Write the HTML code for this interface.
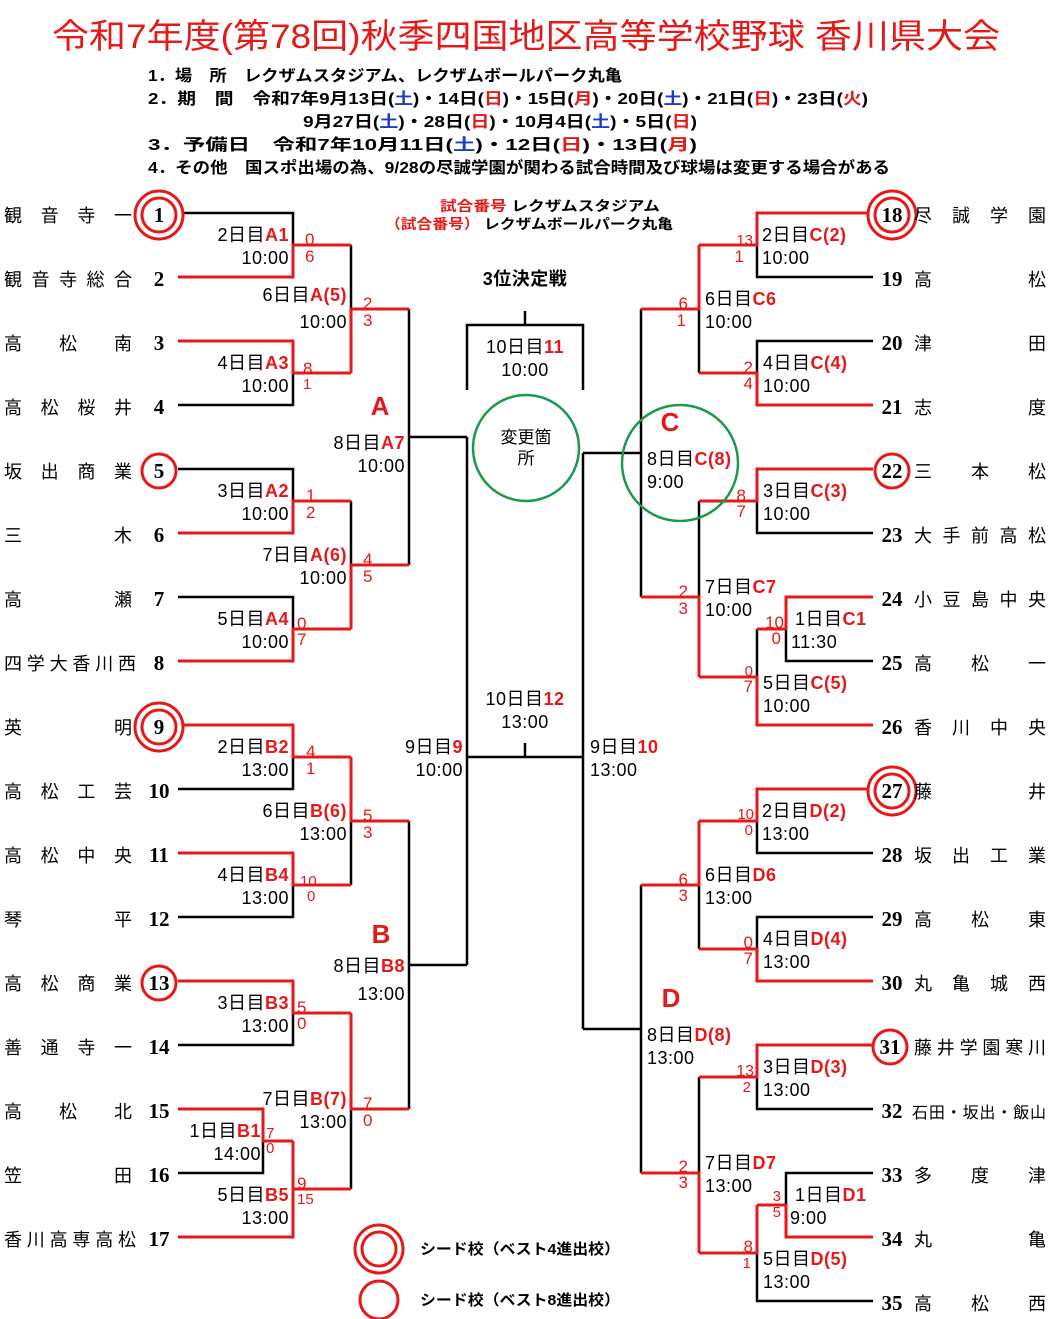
<!DOCTYPE html>
<html><head><meta charset="utf-8"><style>
html,body{margin:0;padding:0;background:#fff;width:1051px;height:1319px;overflow:hidden}
svg{display:block;font-family:"Liberation Sans","Noto Sans CJK JP",sans-serif}
.k{fill:none;stroke:#000;stroke-width:2.5}
.r{fill:none;stroke:#e61919;stroke-width:3}
.g text{font-size:18px;fill:#000;letter-spacing:0.5px}
.rd{fill:#e61919;font-weight:bold}
.s text{font-size:17px;fill:#e61919}
.nm{font-size:18px;fill:#000}
.nu{font-family:"Liberation Serif","Noto Serif CJK SC",serif;font-weight:bold;font-size:21px;fill:#000}
.h{font-size:16px;font-weight:bold;fill:#000}
</style></head><body>
<svg width="1051" height="1319" viewBox="0 0 1051 1319">
<text x="52" y="48" textLength="948" lengthAdjust="spacingAndGlyphs" font-size="34" fill="#e61919">令和7年度(第78回)秋季四国地区高等学校野球 香川県大会</text>
<text class="h" x="148" y="81" textLength="474" lengthAdjust="spacingAndGlyphs">1．場　所　レクザムスタジアム、レクザムボールパーク丸亀</text>
<text class="h" x="148" y="104" textLength="720" lengthAdjust="spacingAndGlyphs">2．期　間　令和7年9月13日(<tspan fill="#1a3cc8">土</tspan>)・14日(<tspan fill="#e61919">日</tspan>)・15日(<tspan fill="#e61919">月</tspan>)・20日(<tspan fill="#1a3cc8">土</tspan>)・21日(<tspan fill="#e61919">日</tspan>)・23日(<tspan fill="#e61919">火</tspan>)</text>
<text class="h" x="303" y="127" textLength="394" lengthAdjust="spacingAndGlyphs">9月27日(<tspan fill="#1a3cc8">土</tspan>)・28日(<tspan fill="#e61919">日</tspan>)・10月4日(<tspan fill="#1a3cc8">土</tspan>)・5日(<tspan fill="#e61919">日</tspan>)</text>
<text class="h" x="148" y="150" textLength="549" lengthAdjust="spacingAndGlyphs">3．予備日　令和7年10月11日(<tspan fill="#1a3cc8">土</tspan>)・12日(<tspan fill="#e61919">日</tspan>)・13日(<tspan fill="#e61919">月</tspan>)</text>
<text class="h" x="148" y="173" textLength="742" lengthAdjust="spacingAndGlyphs">4．その他　国スポ出場の為、9/28の尽誠学園が関わる試合時間及び球場は変更する場合がある</text>
<text x="440" y="211" font-size="14" font-weight="bold" textLength="220" lengthAdjust="spacingAndGlyphs"><tspan fill="#e61919">試合番号</tspan> レクザムスタジアム</text>
<text x="385" y="229" font-size="14" font-weight="bold" textLength="288" lengthAdjust="spacingAndGlyphs"><tspan fill="#e61919">（試合番号）</tspan> レクザムボールパーク丸亀</text>

<path class="k" d="M178 213H293V245M178 405H293V373M351 245V309M178 469H293V501M351 501V565M178 597H293V629M409 309V565M409 437H467M293 757V789H178M351 821V885M293 885V917H178M293 1013V1045H178M351 1109V1189M263 1141V1173H178M409 821V1109M409 965H467M467 437V965M467 757H583M583 453V1029M525 757V743M467 390V325H583V390M525 325V311M641 309V597M583 453H641M757 245V277H873M873 341H757V373M699 309V373M699 501V597M757 501V533H873M786 629V661H873M757 629V677M641 885V1173M583 1029H641M757 821V853H873M873 917H757V949M699 885V949M757 1077V1109H873M699 1077V1173M873 1173H786V1205M757 1253V1301H873"/>
<path class="r" d="M178 277H293V245H351M178 341H293V373H351M351 373V309H409M178 533H293V501H351M178 661H293V629H351M351 629V565H409M178 725H293V757H351M178 853H293V885H351M351 757V821H409M178 981H293V1013H351M178 1109H263V1141H293M178 1237H293V1141M293 1189H351M351 1013V1109H409M873 213H757V245H699M873 405H757V373H699M699 245V309H641M873 469H757V501H699M873 597H786V629H757M873 725H757V677H699M699 677V597H641M873 789H757V821H699M873 981H757V949H699M699 821V885H641M873 1045H757V1077H699M873 1237H786V1205H757M757 1205V1253H699M699 1253V1173H641"/>

<g fill="#fff" stroke="#e61919" stroke-width="3">
<circle cx="159" cy="215" r="24"/><circle cx="159" cy="215" r="17"/>
<circle cx="159" cy="727" r="24"/><circle cx="159" cy="727" r="17"/>
<circle cx="892" cy="215" r="24"/><circle cx="892" cy="215" r="17"/>
<circle cx="892" cy="791" r="24"/><circle cx="892" cy="791" r="17"/>
<circle cx="159" cy="471" r="17"/><circle cx="159" cy="983" r="17"/>
<circle cx="892" cy="471" r="17"/><circle cx="890" cy="1047" r="17"/>
<circle cx="379" cy="1249" r="24"/><circle cx="379" cy="1249" r="17"/>
<circle cx="379" cy="1300" r="19"/>
</g>
<text x="420" y="1254" font-size="15" font-weight="bold" textLength="200" lengthAdjust="spacingAndGlyphs">シード校（ベスト4進出校）</text>
<text x="420" y="1305" font-size="15" font-weight="bold" textLength="200" lengthAdjust="spacingAndGlyphs">シード校（ベスト8進出校）</text>

<g fill="none" stroke="#1a9a4a" stroke-width="2.5"><circle cx="526" cy="448" r="53"/><circle cx="680" cy="463" r="58"/></g>
<text x="526" y="443" text-anchor="middle" font-size="17">変更箇</text>
<text x="526" y="464" text-anchor="middle" font-size="17">所</text>

<g class="nm">
<text x="4" y="222" textLength="128" lengthAdjust="spacing">観音寺一</text>
<text x="4" y="286" textLength="128" lengthAdjust="spacing">観音寺総合</text>
<text x="4" y="350" textLength="128" lengthAdjust="spacing">高松南</text>
<text x="4" y="414" textLength="128" lengthAdjust="spacing">高松桜井</text>
<text x="4" y="478" textLength="128" lengthAdjust="spacing">坂出商業</text>
<text x="4" y="542" textLength="128" lengthAdjust="spacing">三木</text>
<text x="4" y="606" textLength="128" lengthAdjust="spacing">高瀬</text>
<text x="4" y="670" textLength="132" lengthAdjust="spacing">四学大香川西</text>
<text x="4" y="734" textLength="128" lengthAdjust="spacing">英明</text>
<text x="4" y="798" textLength="128" lengthAdjust="spacing">高松工芸</text>
<text x="4" y="862" textLength="128" lengthAdjust="spacing">高松中央</text>
<text x="4" y="926" textLength="128" lengthAdjust="spacing">琴平</text>
<text x="4" y="990" textLength="128" lengthAdjust="spacing">高松商業</text>
<text x="4" y="1054" textLength="128" lengthAdjust="spacing">善通寺一</text>
<text x="4" y="1118" textLength="128" lengthAdjust="spacing">高松北</text>
<text x="4" y="1182" textLength="128" lengthAdjust="spacing">笠田</text>
<text x="4" y="1246" textLength="132" lengthAdjust="spacing">香川高専高松</text>
</g>
<g class="nu" text-anchor="middle">
<text x="159" y="222">1</text><text x="159" y="286">2</text><text x="159" y="350">3</text><text x="159" y="414">4</text><text x="159" y="478">5</text><text x="159" y="542">6</text><text x="159" y="606">7</text><text x="159" y="670">8</text><text x="159" y="734">9</text><text x="159" y="798">10</text><text x="159" y="862">11</text><text x="159" y="926">12</text><text x="159" y="990">13</text><text x="159" y="1054">14</text><text x="159" y="1118">15</text><text x="159" y="1182">16</text><text x="159" y="1246">17</text>
<text x="892" y="222">18</text><text x="892" y="286">19</text><text x="892" y="350">20</text><text x="892" y="414">21</text><text x="892" y="478">22</text><text x="892" y="542">23</text><text x="892" y="606">24</text><text x="892" y="670">25</text><text x="892" y="734">26</text><text x="892" y="798">27</text><text x="892" y="862">28</text><text x="892" y="926">29</text><text x="892" y="990">30</text><text x="890" y="1054">31</text><text x="892" y="1118">32</text><text x="892" y="1182">33</text><text x="892" y="1246">34</text><text x="892" y="1310">35</text>
</g>
<g class="nm">
<text x="914" y="222" textLength="132" lengthAdjust="spacing">尽誠学園</text>
<text x="914" y="286" textLength="132" lengthAdjust="spacing">高松</text>
<text x="914" y="350" textLength="132" lengthAdjust="spacing">津田</text>
<text x="914" y="414" textLength="132" lengthAdjust="spacing">志度</text>
<text x="914" y="478" textLength="132" lengthAdjust="spacing">三本松</text>
<text x="914" y="542" textLength="132" lengthAdjust="spacing">大手前高松</text>
<text x="914" y="606" textLength="132" lengthAdjust="spacing">小豆島中央</text>
<text x="914" y="670" textLength="132" lengthAdjust="spacing">高松一</text>
<text x="914" y="734" textLength="132" lengthAdjust="spacing">香川中央</text>
<text x="914" y="798" textLength="132" lengthAdjust="spacing">藤井</text>
<text x="914" y="862" textLength="132" lengthAdjust="spacing">坂出工業</text>
<text x="914" y="926" textLength="132" lengthAdjust="spacing">高松東</text>
<text x="914" y="990" textLength="132" lengthAdjust="spacing">丸亀城西</text>
<text x="914" y="1054" textLength="132" lengthAdjust="spacing">藤井学園寒川</text>
<text x="912" y="1118" font-size="16" textLength="134" lengthAdjust="spacing">石田・坂出・飯山</text>
<text x="914" y="1182" textLength="132" lengthAdjust="spacing">多度津</text>
<text x="914" y="1246" textLength="132" lengthAdjust="spacing">丸亀</text>
<text x="914" y="1310" textLength="132" lengthAdjust="spacing">高松西</text>
</g>

<g class="g" text-anchor="end">
<text x="289" y="241">2日目<tspan class="rd">A1</tspan></text><text x="289" y="264">10:00</text>
<text x="347" y="301">6日目<tspan class="rd">A(5)</tspan></text><text x="347" y="328">10:00</text>
<text x="289" y="369">4日目<tspan class="rd">A3</tspan></text><text x="289" y="392">10:00</text>
<text x="405" y="449">8日目<tspan class="rd">A7</tspan></text><text x="405" y="472">10:00</text>
<text x="289" y="497">3日目<tspan class="rd">A2</tspan></text><text x="289" y="520">10:00</text>
<text x="347" y="561">7日目<tspan class="rd">A(6)</tspan></text><text x="347" y="584">10:00</text>
<text x="289" y="625">5日目<tspan class="rd">A4</tspan></text><text x="289" y="648">10:00</text>
<text x="289" y="753">2日目<tspan class="rd">B2</tspan></text><text x="289" y="776">13:00</text>
<text x="347" y="817">6日目<tspan class="rd">B(6)</tspan></text><text x="347" y="840">13:00</text>
<text x="289" y="881">4日目<tspan class="rd">B4</tspan></text><text x="289" y="904">13:00</text>
<text x="405" y="972">8日目<tspan class="rd">B8</tspan></text><text x="405" y="1000">13:00</text>
<text x="289" y="1009">3日目<tspan class="rd">B3</tspan></text><text x="289" y="1032">13:00</text>
<text x="347" y="1105">7日目<tspan class="rd">B(7)</tspan></text><text x="347" y="1128">13:00</text>
<text x="261" y="1137">1日目<tspan class="rd">B1</tspan></text><text x="261" y="1160">14:00</text>
<text x="289" y="1201">5日目<tspan class="rd">B5</tspan></text><text x="289" y="1224">13:00</text>
<text x="463" y="753">9日目<tspan class="rd">9</tspan></text><text x="463" y="776">10:00</text>
</g>
<g class="g" text-anchor="middle">
<text x="525" y="285" font-weight="bold">3位決定戦</text>
<text x="525" y="353">10日目<tspan class="rd">11</tspan></text><text x="525" y="376">10:00</text>
<text x="525" y="705">10日目<tspan class="rd">12</tspan></text><text x="525" y="728">13:00</text>
</g>
<g class="g">
<text x="590" y="753">9日目<tspan class="rd">10</tspan></text><text x="590" y="776">13:00</text>
<text x="762" y="241">2日目<tspan class="rd">C(2)</tspan></text><text x="762" y="264">10:00</text>
<text x="705" y="305">6日目<tspan class="rd">C6</tspan></text><text x="705" y="328">10:00</text>
<text x="763" y="369">4日目<tspan class="rd">C(4)</tspan></text><text x="763" y="392">10:00</text>
<text x="647" y="465">8日目<tspan class="rd">C(8)</tspan></text><text x="647" y="488">9:00</text>
<text x="763" y="497">3日目<tspan class="rd">C(3)</tspan></text><text x="763" y="520">10:00</text>
<text x="705" y="593">7日目<tspan class="rd">C7</tspan></text><text x="705" y="616">10:00</text>
<text x="795" y="625">1日目<tspan class="rd">C1</tspan></text><text x="791" y="648">11:30</text>
<text x="763" y="689">5日目<tspan class="rd">C(5)</tspan></text><text x="763" y="712">10:00</text>
<text x="762" y="817">2日目<tspan class="rd">D(2)</tspan></text><text x="762" y="840">13:00</text>
<text x="705" y="881">6日目<tspan class="rd">D6</tspan></text><text x="705" y="904">13:00</text>
<text x="763" y="945">4日目<tspan class="rd">D(4)</tspan></text><text x="763" y="968">13:00</text>
<text x="647" y="1041">8日目<tspan class="rd">D(8)</tspan></text><text x="647" y="1064">13:00</text>
<text x="763" y="1073">3日目<tspan class="rd">D(3)</tspan></text><text x="763" y="1096">13:00</text>
<text x="705" y="1169">7日目<tspan class="rd">D7</tspan></text><text x="705" y="1192">13:00</text>
<text x="795" y="1201">1日目<tspan class="rd">D1</tspan></text><text x="790" y="1224">9:00</text>
<text x="763" y="1265">5日目<tspan class="rd">D(5)</tspan></text><text x="763" y="1288">13:00</text>
</g>
<g font-size="26" font-weight="bold" fill="#e61919" text-anchor="middle">
<text x="380" y="415">A</text><text x="381" y="943">B</text><text x="670" y="431">C</text><text x="671" y="1007">D</text>
</g>
<g class="s">
<text x="305" y="245">0</text><text x="305" y="262">6</text>
<text x="303" y="374">8</text><text x="303" y="389" style="font-size:15px">1</text>
<text x="363" y="309">2</text><text x="363" y="326">3</text>
<text x="306" y="501">1</text><text x="306" y="518">2</text>
<text x="363" y="565">4</text><text x="363" y="582">5</text>
<text x="297" y="629">0</text><text x="297" y="645">7</text>
<text x="306" y="757">4</text><text x="306" y="774">1</text>
<text x="363" y="821">5</text><text x="363" y="838">3</text>
<text x="300" y="886" style="font-size:15px">10</text><text x="307" y="901" style="font-size:15px">0</text>
<text x="297" y="1013">5</text><text x="297" y="1029">0</text>
<text x="363" y="1109">7</text><text x="363" y="1126">0</text>
<text x="266" y="1138" style="font-size:15px">7</text><text x="266" y="1153" style="font-size:15px">0</text>
<text x="297" y="1189">9</text><text x="297" y="1204" style="font-size:15px">15</text>
</g>
<g class="s" text-anchor="end">
<text x="753" y="245" style="font-size:15px">13</text><text x="744" y="262">1</text>
<text x="688" y="309">6</text><text x="686" y="326">1</text>
<text x="753" y="373">2</text><text x="753" y="389">4</text>
<text x="746" y="501">8</text><text x="746" y="517">7</text>
<text x="688" y="597">2</text><text x="688" y="614">3</text>
<text x="784" y="628">10</text><text x="781" y="644">0</text>
<text x="753" y="676" style="font-size:15px">0</text><text x="753" y="692">7</text>
<text x="754" y="819" style="font-size:15px">10</text><text x="753" y="835" style="font-size:15px">0</text>
<text x="688" y="885">6</text><text x="688" y="901">3</text>
<text x="753" y="948">0</text><text x="753" y="964">7</text>
<text x="754" y="1076" style="font-size:16px">13</text><text x="751" y="1092" style="font-size:15px">2</text>
<text x="688" y="1172">2</text><text x="688" y="1188">3</text>
<text x="781" y="1201" style="font-size:15px">3</text><text x="781" y="1217" style="font-size:15px">5</text>
<text x="753" y="1252">8</text><text x="751" y="1268" style="font-size:15px">1</text>
</g>
</svg>
</body></html>
